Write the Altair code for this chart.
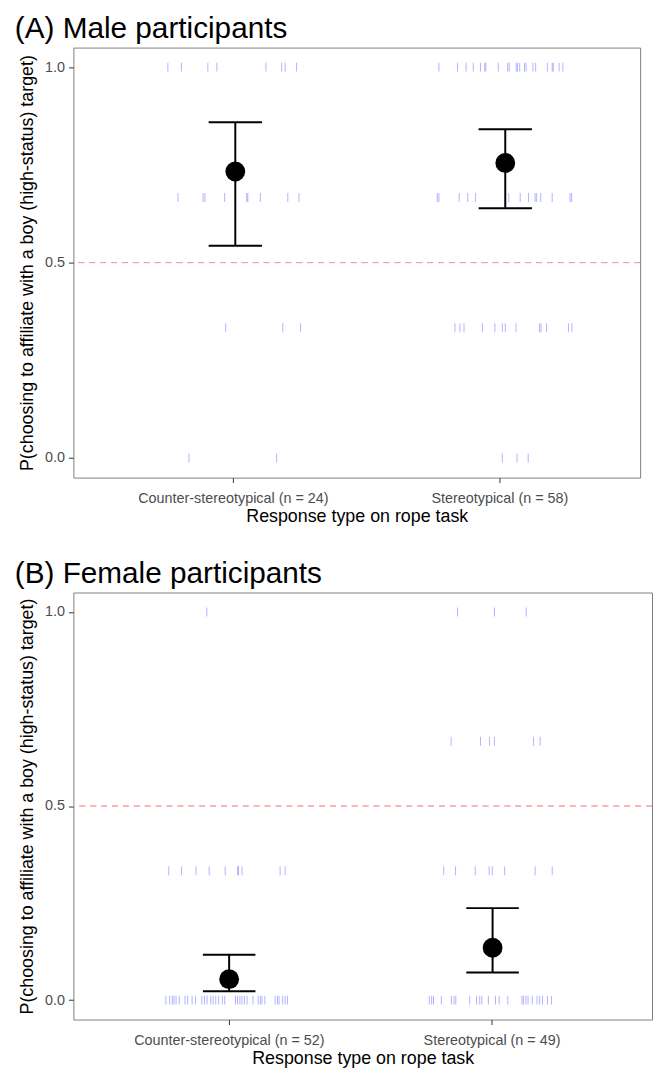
import altair as alt
import pandas as pd

# ---------------- data ----------------
# Jittered x positions of individual responses (category 1 = counter, 2 = stereo)
# Panel A (male participants)
a_y_levels = [1.0, 2/3, 1/3, 0.0]
a_counter_x = [
    [0.756, 0.807, 0.906, 0.940, 1.124, 1.183, 1.196, 1.239],
    [0.794, 0.888, 0.895, 0.969, 1.052, 1.056, 1.103, 1.206, 1.248],
    [0.973, 1.187, 1.254],
    [0.835, 1.164],
]
a_stereo_x = [
    [1.773, 1.843, 1.875, 1.902, 1.929, 1.945, 1.949, 1.996, 2.031, 2.037, 2.063,
     2.068, 2.076, 2.094, 2.100, 2.126, 2.136, 2.180, 2.198, 2.202, 2.224, 2.238],
    [1.767, 1.773, 1.849, 1.881, 1.910, 2.035, 2.078, 2.109, 2.134, 2.140, 2.155,
     2.198, 2.265, 2.271],
    [1.833, 1.852, 1.867, 1.936, 1.983, 2.011, 2.022, 2.062, 2.150, 2.156, 2.177,
     2.259, 2.272],
    [2.011, 2.066, 2.108],
]
# Panel B (female participants)
b_y_levels = [1.0, 2/3, 1/3, 0.0]
b_counter_x = [
    [0.916],
    [],
    [0.771, 0.820, 0.875, 0.925, 0.986, 1.033, 1.037, 1.050, 1.195, 1.214],
    [0.760, 0.775, 0.785, 0.791, 0.799, 0.811, 0.833, 0.843, 0.860, 0.873, 0.897,
     0.907, 0.917, 0.931, 0.940, 0.950, 0.961, 0.975, 0.984, 1.025, 1.033, 1.042,
     1.050, 1.059, 1.069, 1.092, 1.112, 1.120, 1.126, 1.137, 1.176, 1.185, 1.191,
     1.205, 1.214, 1.223],
]
b_stereo_x = [
    [1.871, 2.011, 2.132],
    [1.846, 1.958, 1.992, 2.011, 2.160, 2.185],
    [1.818, 1.863, 1.938, 1.991, 2.003, 2.050, 2.166, 2.231],
    [1.763, 1.772, 1.779, 1.809, 1.847, 1.857, 1.864, 1.917, 1.943, 1.955, 1.963,
     1.988, 2.015, 2.029, 2.062, 2.116, 2.122, 2.131, 2.139, 2.155, 2.173, 2.183,
     2.194, 2.213, 2.228],
]

# Summary (mean and 95% CI) per group
a_sum_x = [1.009, 2.022]
a_mean = [0.733, 0.755]
a_lo = [0.543, 0.639]
a_hi = [0.859, 0.841]

b_sum_x = [1.001, 2.004]
b_mean = [0.054, 0.135]
b_lo = [0.023, 0.071]
b_hi = [0.117, 0.237]

a_labels = ["Counter-stereotypical (n = 24)", "Stereotypical (n = 58)"]
b_labels = ["Counter-stereotypical (n = 52)", "Stereotypical (n = 49)"]

a_title = "(A) Male participants"
b_title = "(B) Female participants"
x_title = "Response type on rope task"
y_title = "P(choosing to affiliate with a boy (high-status) target)"

FONT = "Liberation Sans"


def tick_frame(levels, counter, stereo):
    rows = []
    for lvl, xs in zip(levels, counter):
        rows += [{"x": v, "y": lvl} for v in xs]
    for lvl, xs in zip(levels, stereo):
        rows += [{"x": v, "y": lvl} for v in xs]
    return pd.DataFrame(rows)


def panel(title, ticks_df, sx, mean, lo, hi, labels, xdom, w, h):
    summ = pd.DataFrame({"x": sx, "mean": mean, "lo": lo, "hi": hi})
    xs = alt.Scale(domain=xdom, nice=False, zero=False)
    ys = alt.Scale(domain=[-0.05, 1.05], nice=False, zero=False)
    label_expr = f"datum.value == 1 ? '{labels[0]}' : '{labels[1]}'"
    xax = alt.Axis(values=[1, 2], labelExpr=label_expr, grid=False, domain=False,
                   title=x_title, labelLimit=400, labelPadding=9, titlePadding=3)
    yax = alt.Axis(values=[0, 0.5, 1], format=".1f", grid=False, domain=False,
                   title=y_title, labelPadding=4, titlePadding=8)

    ticks = alt.Chart(ticks_df).mark_tick(
        orient="vertical", color="#0000ff", opacity=0.3, size=9, thickness=1
    ).encode(x=alt.X("x:Q", scale=xs, axis=xax), y=alt.Y("y:Q", scale=ys, axis=yax))

    ref = alt.Chart(summ).mark_rule(
        color="#f4a0a0", strokeDash=[6, 5], strokeWidth=1
    ).encode(y=alt.datum(0.5, scale=ys))

    base = alt.Chart(summ)
    bar = base.mark_rule(color="black", strokeWidth=2).encode(
        x=alt.X("x:Q", scale=xs), y=alt.Y("lo:Q", scale=ys), y2="hi:Q")
    cap_hi = base.transform_calculate(xl="datum.x - 0.1", xr="datum.x + 0.1").mark_rule(
        color="black", strokeWidth=2).encode(
        x=alt.X("xl:Q", scale=xs), x2="xr:Q", y=alt.Y("hi:Q", scale=ys))
    cap_lo = base.transform_calculate(xl="datum.x - 0.1", xr="datum.x + 0.1").mark_rule(
        color="black", strokeWidth=2).encode(
        x=alt.X("xl:Q", scale=xs), x2="xr:Q", y=alt.Y("lo:Q", scale=ys))
    pts = base.mark_circle(color="black", opacity=1, size=400).encode(
        x=alt.X("x:Q", scale=xs), y=alt.Y("mean:Q", scale=ys))

    return alt.layer(ref, ticks, bar, cap_hi, cap_lo, pts).properties(
        width=w, height=h,
        title=alt.TitleParams(title, anchor="start", frame="bounds", fontSize=30,
                              font=FONT, fontWeight="normal", color="black",
                              offset=4, dx=-4),
    )


pa = panel(a_title, tick_frame(a_y_levels, a_counter_x, a_stereo_x),
           a_sum_x, a_mean, a_lo, a_hi, a_labels, [0.4015, 2.528], 572, 434)
pb = panel(b_title, tick_frame(b_y_levels, b_counter_x, b_stereo_x),
           b_sum_x, b_mean, b_lo, b_hi, b_labels, [0.408, 2.611], 584, 431)

chart = alt.vconcat(pa, pb, spacing=32).configure(
    padding={"left": 6, "top": 0, "right": 0, "bottom": 0}
).configure_view(
    stroke="#7f7f7f", strokeWidth=1
).configure_axis(
    labelFont=FONT, labelFontSize=14.5, labelColor="#4d4d4d",
    titleFont=FONT, titleFontSize=18, titleColor="black", titleFontWeight="normal",
    tickColor="#333333", tickSize=5,
)

chart.save("out.html", embed_options={"renderer": "svg", "actions": False})
